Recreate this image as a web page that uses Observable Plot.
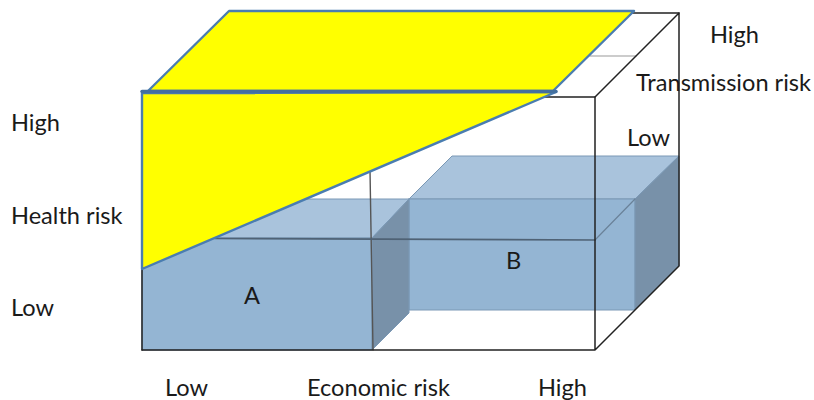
<!DOCTYPE html>
<html><head><meta charset="utf-8">
<script src="https://cdn.jsdelivr.net/npm/d3@7"></script>
<script src="https://cdn.jsdelivr.net/npm/@observablehq/plot@0.6"></script>
<style>html,body{margin:0;padding:0;background:#fff}svg{display:block}</style>
</head><body><div id="chart"></div>
<script>
const pts = s => s.map(([x, y]) => ({x, y}));
// Outline of the risk cube
const cubeOutline = [[142,350],[595,350],[595,97],[679,13],[679,266],[595,350]];
const cubeTopBack = [[545,97],[595,97]];
const cubeTopEdge = [[625,13],[679,13]];
const cubeMidLine = [[590,56],[636,56]];
const cubeLeft = [[142,262],[142,350]];
const innerV = [[370,170],[373,350]];
const innerH = [[215,238.5],[595,240]];
const innerDiag = [[595,240],[635,199]];
// Box A
const aTop = [[142,238],[181,199],[409,199],[372,238]];
const aFront = [[142,238],[372,238],[372,350],[142,350]];
const aSide = [[372,238],[409,199],[409,313],[372,350]];
// Box B
const bTop = [[409,199],[452,156],[679,156],[635,199]];
const bFront = [[409,199],[635,199],[635,310],[409,310]];
const bSide = [[635,199],[679,156],[679,266],[635,310]];
// Yellow high-risk planes
const yellowTop = [[148,91],[229,11],[634,11],[553,91]];
const yellowFront = [[142,93],[556,92],[142,269]];
const yellowDivider = [[142,91.5],[556,91.5]];
// Labels
const labels = [
  {t:"High",x:11,y:123},{t:"Health risk",x:11,y:216},{t:"Low",x:11,y:308},
  {t:"Low",x:165,y:388},{t:"Economic risk",x:307,y:388},{t:"High",x:538,y:388},
  {t:"High",x:710,y:35},{t:"Transmission risk",x:636,y:83},{t:"Low",x:627,y:138},
  {t:"A",x:244,y:296},{t:"B",x:506,y:261}
];
const closed = a => pts([...a, a[0]]);
const poly = (a, fill, stroke = "#7a98b5", strokeWidth = 1) => Plot.line(closed(a), {x:"x", y:"y", fill, stroke, strokeWidth, curve:"linear"});
const seg = (a, stroke, strokeWidth) => Plot.line(pts(a), {x:"x", y:"y", stroke, strokeWidth, curve:"linear"});
const dark = "#222222", edge = "#4a7db0";
const plot = Plot.plot({
  width:814, height:400, margin:0,
  x:{domain:[0.5,814.5], axis:null}, y:{domain:[400.5,0.5], axis:null},
  style:{background:"#fff"},
  marks:[
    seg(cubeMidLine, "#999", 1.2),
    poly(bTop, "#a9c3dc"), poly(bFront, "#94b5d3"), poly(bSide, "#7891a9"),
    poly(aTop, "#a9c3dc"), poly(aFront, "#94b5d3"), poly(aSide, "#7891a9"),
    seg(innerDiag, "#6a8299", 1.2),
    seg(innerV, "#555", 1.4),
    seg(innerH, "#4f6275", 1.6),
    seg(cubeOutline, dark, 1.5),
    seg(cubeTopBack, dark, 1.5),
    seg(cubeTopEdge, dark, 1.5),
    seg(cubeLeft, dark, 1.5),
    poly(yellowTop, "#ffff00", edge, 2.4),
    poly(yellowFront, "#ffff00", edge, 2.4),
    seg(yellowDivider, "#44709f", 3.5),
    Plot.text(labels, {x:"x", y:"y", text:"t", textAnchor:"start", fontSize:23.6, fontFamily:"Lato", fill:"#1a1a1a"})
  ]
});
document.getElementById("chart").append(plot);
</script></body></html>
